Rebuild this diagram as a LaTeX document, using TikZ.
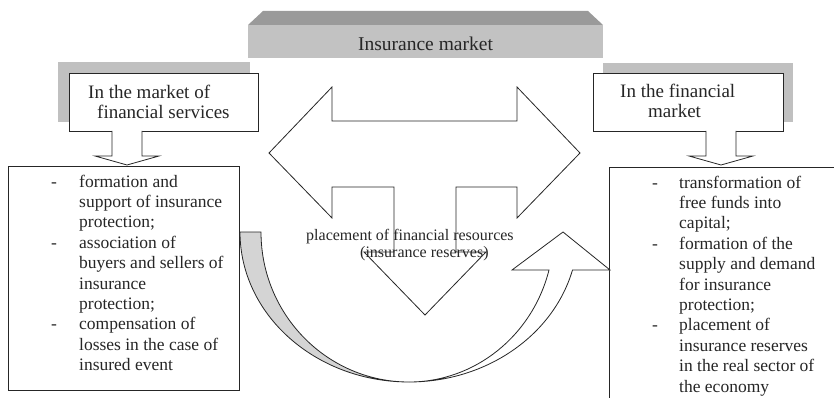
\documentclass[tikz,border=0pt]{standalone}
\usepackage{fontspec}
\setmainfont{Liberation Serif}
\definecolor{bantop}{HTML}{9A9A9A}
\definecolor{banfront}{HTML}{C2C2C2}
\definecolor{shadowc}{HTML}{C0C0C0}
\definecolor{curvegrey}{HTML}{D4D4D4}
\newcommand\hdfont{\fontsize{19}{20.5}\selectfont}
\newcommand\lsfont{\fontsize{17.5}{20.4}\selectfont}
\newcommand\ctfont{\fontsize{16}{17}\selectfont}
\newcommand\bnfont{\fontsize{19.5}{22}\selectfont}
\begin{document}
\begin{tikzpicture}[x=1pt,y=-1pt,
  box/.style={draw=black!85, line width=0.8pt, fill=white, inner sep=0pt, anchor=north west},
  shape line/.style={draw=black!85, line width=0.8pt, line join=miter},
  txt/.style={inner sep=0pt, anchor=north west, text=black!85}]
\useasboundingbox (0,0) rectangle (834,398);
\clip (0,0) rectangle (834,398);
% banner
\fill[bantop] (263,11) -- (588,11) -- (603,25) -- (248,25) -- cycle;
\node[fill=banfront, inner sep=0pt, minimum width=355pt, minimum height=33pt, anchor=north west] (banner) at (248,25) {};
\node[anchor=base, inner sep=0pt, font=\bnfont, text=black!85] (bantext) at (425.5,50.5) {Insurance market};
% header shadows
\fill[shadowc] (58,62) rectangle (250,122);
\fill[shadowc] (603,63) rectangle (793,122);
% header boxes
\node[box, minimum width=189pt, minimum height=58pt] (lhead) at (69,73) {};
\node[box, minimum width=190pt, minimum height=58pt] (rhead) at (593,73) {};
% list boxes
\node[box, minimum width=231pt, minimum height=224pt] (llist) at (8,166) {};
\node[box, minimum width=260pt, minimum height=260pt] (rlist) at (609,167) {};
% down block arrows
\filldraw[shape line, fill=white] (112,131) -- (112,156) -- (95,156) -- (127,165) -- (159,156) -- (142,156) -- (142,131);
\filldraw[shape line, fill=white] (706,131) -- (706,156) -- (689,156) -- (721,165) -- (753,156) -- (736,156) -- (736,131);
% central three-way arrow
\filldraw[shape line, fill=white] (269,153) -- (332,87) -- (332,121) -- (517,121) -- (517,87) -- (580,153)
  -- (517,218) -- (517,187) -- (456,187) -- (456,252) -- (486,252) -- (425,315) -- (364,252)
  -- (394,252) -- (394,187) -- (332,187) -- (332,218) -- cycle;
% curved arrow: grey back part
\filldraw[shape line, fill=curvegrey] (240,232) .. controls (240,314.8) and (315.7,382) .. (409,382)
  .. controls (327.3,382) and (261,314.8) .. (261,232) -- cycle;
% curved arrow: white front part with head
\filldraw[shape line, fill=white] (409,382) .. controls (485.8,382) and (553,336) .. (572.5,270)
  -- (610,270) -- (563,232) -- (512,270) -- (549,270)
  .. controls (532.3,336) and (474.8,382) .. (409,382) -- cycle;
% header texts
\node[txt, font=\hdfont] (lheadtext) at (88,83.6) {\begin{tabular}{@{}l@{}}In the market of\\\hspace*{9pt}financial services\end{tabular}};
\node[txt, font=\hdfont] (rheadtext) at (620,82.6) {\begin{tabular}{@{}l@{}}In the financial\\\hspace*{28pt}market\end{tabular}};
% list texts
\node[txt, font=\lsfont] (llisttext) at (51,172.7) {\begin{tabular}{@{}p{28pt}@{}l@{}}
-& formation and\\
 & support of insurance\\
 & protection;\\
-& association of\\
 & buyers and sellers of\\
 & insurance\\
 & protection;\\
-& compensation of\\
 & losses in the case of\\
 & insured event
\end{tabular}};
\node[txt, font=\lsfont] (rlisttext) at (652,173.7) {\begin{tabular}{@{}p{27pt}@{}l@{}}
-& transformation of\\
 & free funds into\\
 & capital;\\
-& formation of the\\
 & supply and demand\\
 & for insurance\\
 & protection;\\
-& placement of\\
 & insurance reserves\\
 & in the real sector of\\
 & the economy
\end{tabular}};
% central label
\node[txt, font=\ctfont] (ctext) at (306,228.8) {\begin{tabular}{@{}l@{}}placement of financial resources\\\hspace*{54pt}(insurance reserves)\end{tabular}};
\end{tikzpicture}
\end{document}
